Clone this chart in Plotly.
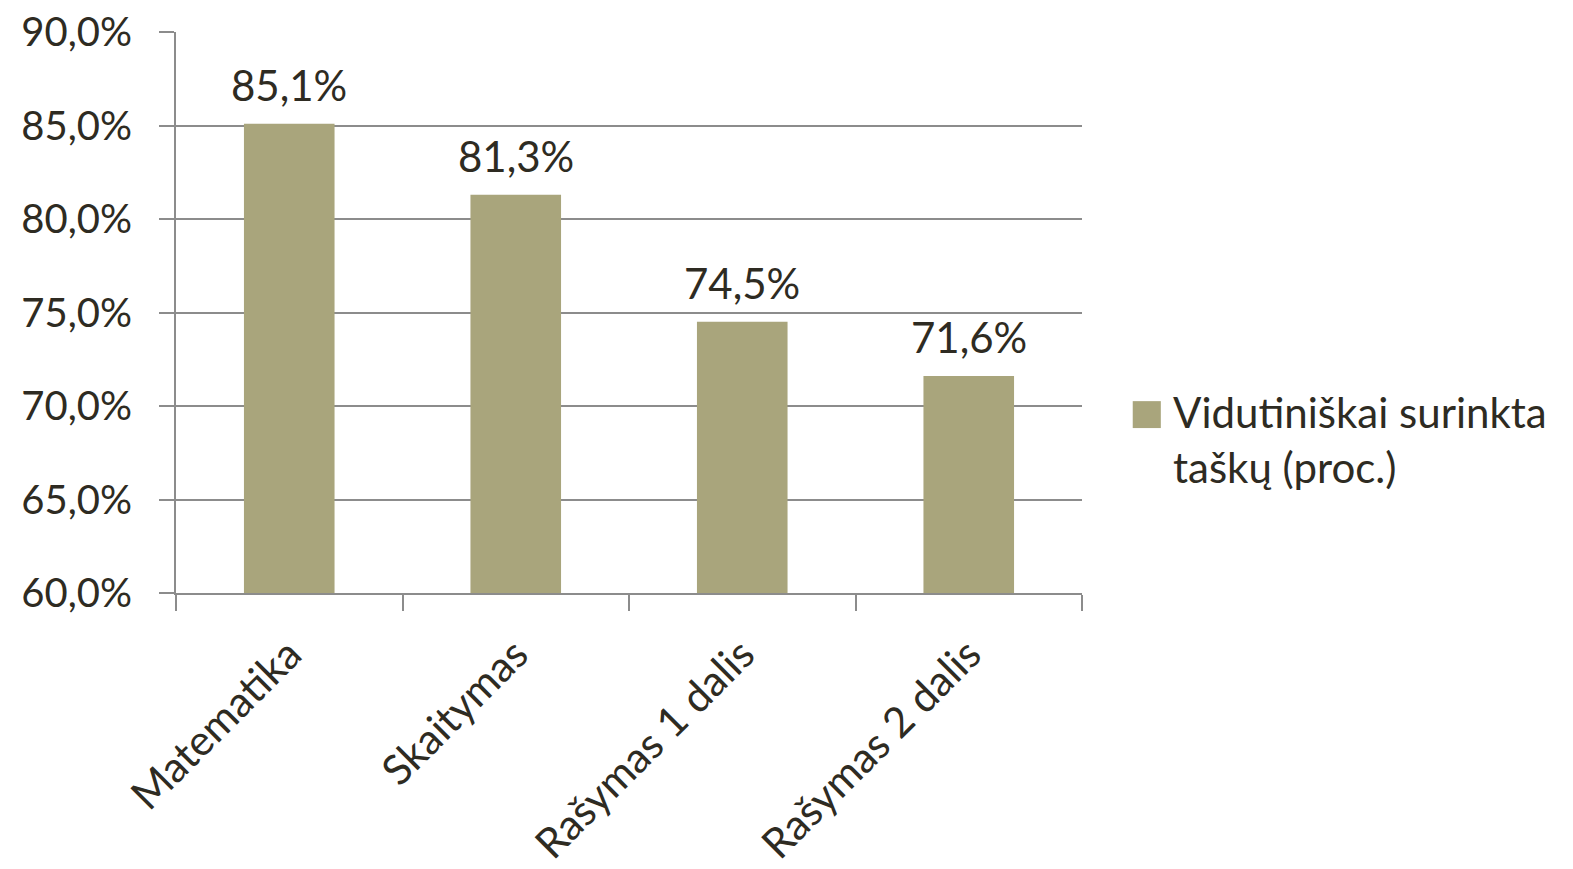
import plotly.graph_objects as go

categories = ["Matematika", "Skaitymas", "Rašymas 1 dalis", "Rašymas 2 dalis"]
values = [85.1, 81.3, 74.5, 71.6]
series_name = "Vidutiniškai surinkta<br>taškų (proc.)"
y_ticks = [60, 65, 70, 75, 80, 85, 90]
y_tick_text = [f"{v:.1f}%".replace(".", ",") for v in y_ticks]

bar_color = "#A9A57C"
text_color = "#2E2B22"
grid_color = "#8C8C8C"
font_family = "Lato, Open Sans, sans-serif"

fig = go.Figure()
fig.add_trace(go.Bar(
    x=categories, y=values, name=series_name,
    marker=dict(color=bar_color, line=dict(width=0)),
    showlegend=False,
))

for c, v in zip(categories, values):
    fig.add_annotation(
        x=c, y=v, xref="x", yref="y", text=f"{v:.1f}%".replace(".", ","),
        showarrow=False, yanchor="bottom", yshift=12,
        font=dict(size=42, color=text_color, family=font_family),
    )

# legend drawn as a swatch + text
fig.add_shape(type="rect", xref="paper", yref="paper",
              x0=1.056, x1=1.087, y0=0.342, y1=0.294,
              fillcolor=bar_color, line=dict(width=0))
fig.add_annotation(
    xref="paper", yref="paper", x=1.098, y=0.37, xanchor="left", yanchor="top",
    text=series_name, showarrow=False, align="left",
    font=dict(size=42, color=text_color, family=font_family),
)

fig.update_layout(
    width=1573, height=869,
    margin=dict(l=168, r=499, t=24, b=284),
    paper_bgcolor="white", plot_bgcolor="white",
    bargap=0.6,
    font=dict(family=font_family, color=text_color, size=42),
    showlegend=False,
)
fig.update_yaxes(
    range=[60, 90], tickvals=y_ticks, ticktext=y_tick_text,
    showgrid=True, gridcolor=grid_color, gridwidth=2,
    showline=True, linecolor=grid_color, linewidth=2,
    ticks="outside", ticklen=15, tickcolor=grid_color, tickwidth=2,
    tickfont=dict(size=40, color=text_color), ticklabelstandoff=19,
    ticklabeloverflow="allow",
    zeroline=False, automargin=False,
)
fig.update_xaxes(
    showline=True, linecolor=grid_color, linewidth=2,
    ticks="outside", ticklen=16, tickcolor=grid_color, tickwidth=2,
    tickson="boundaries", tickangle=-45, ticklabelstandoff=18,
    tickfont=dict(size=42, color=text_color), automargin=False,
)

fig.write_html("out.html")
